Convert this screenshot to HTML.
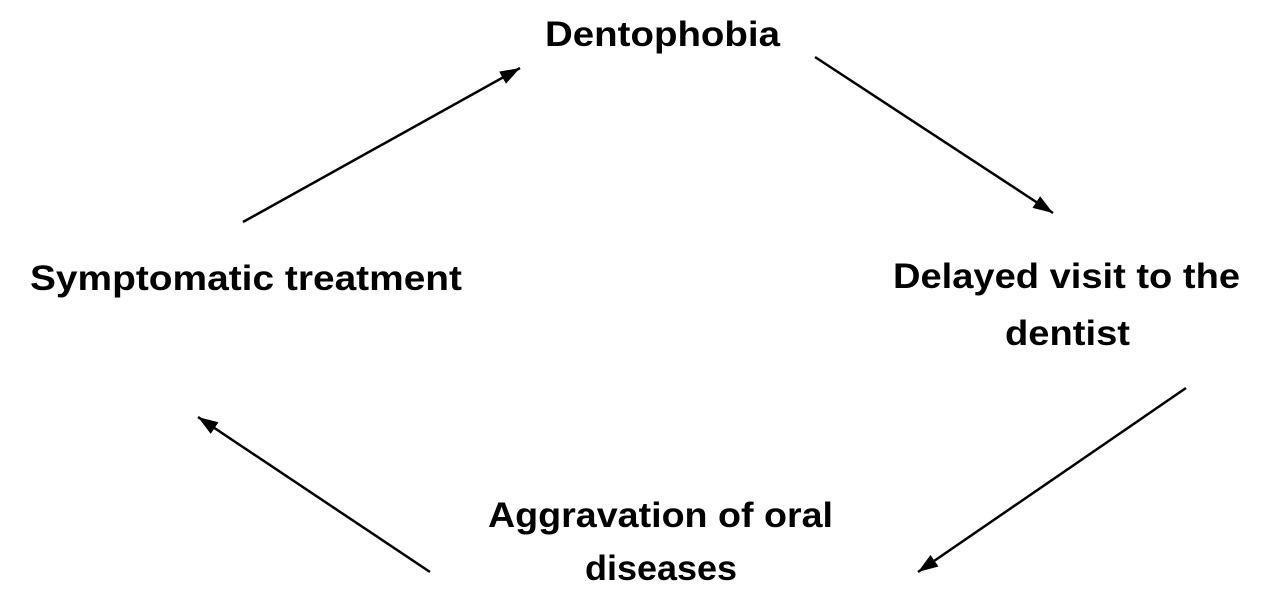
<!DOCTYPE html>
<html><head><meta charset="utf-8"><style>html,body{margin:0;padding:0;background:#fff;width:1268px;height:604px;overflow:hidden}</style></head>
<body>
<svg width="1268" height="604" viewBox="0 0 1268 604" xmlns="http://www.w3.org/2000/svg">
<defs><marker id="a" markerWidth="10" markerHeight="10" refX="9" refY="5" orient="auto" markerUnits="userSpaceOnUse"><path d="M0,0 L10,5 L0,10 Z" fill="#000" transform="scale(1.6) translate(-4,-2)"/></marker>
<marker id="h" viewBox="0 0 20 14" markerWidth="20" markerHeight="14" refX="20" refY="7" orient="auto" markerUnits="userSpaceOnUse"><path d="M0,0 L20,7 L0,14 Z" fill="#000"/></marker></defs>
<g font-family="Liberation Sans, sans-serif" font-weight="bold" font-size="35" fill="#000">
<text x="545" y="46" textLength="235" lengthAdjust="spacingAndGlyphs">Dentophobia</text>
<text x="30" y="290" textLength="432" lengthAdjust="spacingAndGlyphs">Symptomatic treatment</text>
<text x="893" y="288" textLength="347" lengthAdjust="spacingAndGlyphs">Delayed visit to the</text>
<text x="1005" y="345" textLength="125" lengthAdjust="spacingAndGlyphs">dentist</text>
<text x="488" y="527" textLength="345" lengthAdjust="spacingAndGlyphs">Aggravation of oral</text>
<text x="585" y="580" textLength="152" lengthAdjust="spacingAndGlyphs">diseases</text>
</g>
<g stroke="#000" stroke-width="2.5">
<line x1="243" y1="222" x2="520" y2="68" marker-end="url(#h)"/>
<line x1="815" y1="57" x2="1053" y2="213" marker-end="url(#h)"/>
<line x1="1186" y1="388" x2="918" y2="572" marker-end="url(#h)"/>
<line x1="430" y1="572" x2="198" y2="417" marker-end="url(#h)"/>
</g>
</svg>
</body></html>
